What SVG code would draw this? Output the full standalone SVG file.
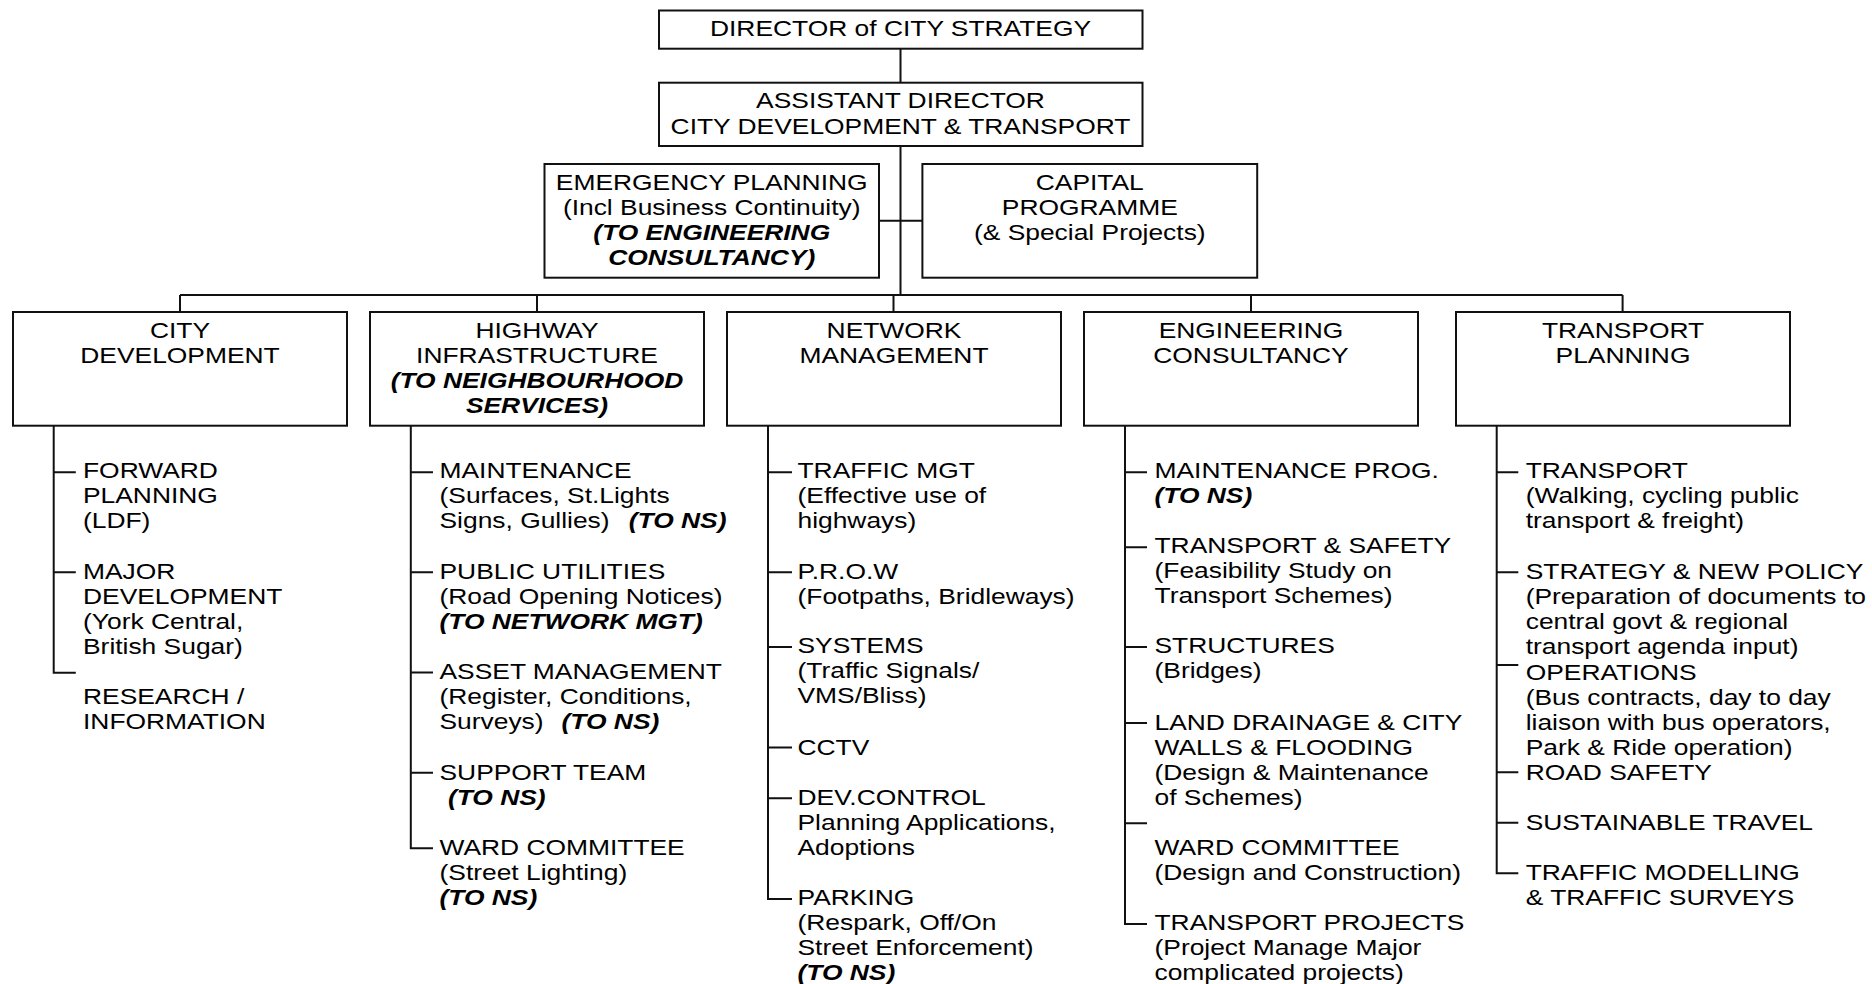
<svg xmlns="http://www.w3.org/2000/svg" width="1872" height="984" viewBox="0 0 1872 984">
<style>
.t{font-family:"Liberation Sans",Arial,Helvetica,sans-serif;font-size:22px;fill:#000}
.b{font-weight:bold;font-style:italic}
.c{text-anchor:middle}
.ln{stroke:#111;stroke-width:2;fill:none}
.box{fill:#fff;stroke:#111;stroke-width:2}
</style>
<rect x="0" y="0" width="1872" height="984" fill="#fff"/>

<g id="connectors">
  <path class="ln" d="M900.5,48.7V82.7 M900.5,146V295 M879,220.7H922.4 M180,295H1622.6 M180,295V312 M537,295V312 M893.5,295V312 M1251,295V312 M1622.6,295V312"/>
  <!-- city development list -->
  <path class="ln" d="M53.7,425.7V672.7H75.8 M53.7,472.3H75.8 M53.7,572.3H75.8"/>
  <!-- highway list -->
  <path class="ln" d="M410.8,425.7V848.3H433 M410.8,472.3H433 M410.8,572.3H433 M410.8,672.5H433 M410.8,772.7H433"/>
  <!-- network list -->
  <path class="ln" d="M768,425.7V899H792 M768,472.3H792 M768,572.3H792 M768,647H792 M768,747.5H792 M768,798.3H792"/>
  <!-- engineering list -->
  <path class="ln" d="M1125,425.7V924H1147 M1125,472.3H1147 M1125,547.3H1147 M1125,647H1147 M1125,723H1147 M1125,823.3H1147"/>
  <!-- transport planning list -->
  <path class="ln" d="M1496.7,425.7V873.3H1518.3 M1496.7,472.3H1518.3 M1496.7,572.3H1518.3 M1496.7,665H1518.3 M1496.7,772.3H1518.3 M1496.7,822.7H1518.3"/>
</g>

<g id="director">
  <rect class="box" x="659" y="10.5" width="483.5" height="38.2"/>
  <g transform="translate(900.5,36) scale(1.2,1)"><text class="t c" x="0" y="0">DIRECTOR of CITY STRATEGY</text></g>
</g>

<g id="assistant-director">
  <rect class="box" x="659" y="82.7" width="483.5" height="63.3"/>
  <g transform="translate(900.5,108.3) scale(1.2,1)"><text class="t c"><tspan x="0" y="0">ASSISTANT DIRECTOR</tspan><tspan x="0" y="25.7">CITY DEVELOPMENT &amp; TRANSPORT</tspan></text></g>
</g>

<g id="emergency-planning">
  <rect class="box" x="544.5" y="164" width="334.5" height="113.7"/>
  <g transform="translate(711.7,190) scale(1.2,1)"><text class="t c"><tspan x="0" y="0">EMERGENCY PLANNING</tspan><tspan x="0" y="25">(Incl Business Continuity)</tspan><tspan class="b" x="0" y="50">(TO ENGINEERING</tspan><tspan class="b" x="0" y="75">CONSULTANCY)</tspan></text></g>
</g>

<g id="capital-programme">
  <rect class="box" x="922.4" y="164" width="334.8" height="113.7"/>
  <g transform="translate(1089.8,190) scale(1.2,1)"><text class="t c"><tspan x="0" y="0">CAPITAL</tspan><tspan x="0" y="25">PROGRAMME</tspan><tspan x="0" y="50">(&amp; Special Projects)</tspan></text></g>
</g>

<g id="city-development">
  <rect class="box" x="13" y="312" width="334" height="113.7"/>
  <g transform="translate(180,337.7) scale(1.2,1)"><text class="t c"><tspan x="0" y="0">CITY</tspan><tspan x="0" y="25.6">DEVELOPMENT</tspan></text></g>
  <g transform="translate(83,478.3) scale(1.2,1)"><text class="t">
    <tspan x="0" y="0">FORWARD</tspan><tspan x="0" y="25">PLANNING</tspan><tspan x="0" y="50">(LDF)</tspan>
    <tspan x="0" y="101">MAJOR</tspan><tspan x="0" y="126">DEVELOPMENT</tspan><tspan x="0" y="151">(York Central,</tspan><tspan x="0" y="176">British Sugar)</tspan>
    <tspan x="0" y="226">RESEARCH /</tspan><tspan x="0" y="251">INFORMATION</tspan>
  </text></g>
</g>

<g id="highway-infrastructure">
  <rect class="box" x="370" y="312" width="334" height="113.7"/>
  <g transform="translate(537,337.7) scale(1.2,1)"><text class="t c"><tspan x="0" y="0">HIGHWAY</tspan><tspan x="0" y="25.6">INFRASTRUCTURE</tspan><tspan class="b" x="0" y="50.6">(TO NEIGHBOURHOOD</tspan><tspan class="b" x="0" y="75">SERVICES)</tspan></text></g>
  <g transform="translate(439.5,478.3) scale(1.2,1)"><text class="t">
    <tspan x="0" y="0">MAINTENANCE</tspan><tspan x="0" y="25">(Surfaces, St.Lights</tspan><tspan x="0" y="50">Signs, Gullies)</tspan><tspan class="b" dx="16">(TO NS)</tspan>
    <tspan x="0" y="101">PUBLIC UTILITIES</tspan><tspan x="0" y="126">(Road Opening Notices)</tspan><tspan class="b" x="0" y="151">(TO NETWORK MGT)</tspan>
    <tspan x="0" y="201.2">ASSET MANAGEMENT</tspan><tspan x="0" y="226.2">(Register, Conditions,</tspan><tspan x="0" y="251.2">Surveys)</tspan><tspan class="b" dx="15">(TO NS)</tspan>
    <tspan x="0" y="301.7">SUPPORT TEAM</tspan><tspan class="b" x="7" y="326.7">(TO NS)</tspan>
    <tspan x="0" y="376.7">WARD COMMITTEE</tspan><tspan x="0" y="401.7">(Street Lighting)</tspan><tspan class="b" x="0" y="426.7">(TO NS)</tspan>
  </text></g>
</g>

<g id="network-management">
  <rect class="box" x="727" y="312" width="334" height="113.7"/>
  <g transform="translate(894,337.7) scale(1.2,1)"><text class="t c"><tspan x="0" y="0">NETWORK</tspan><tspan x="0" y="25.6">MANAGEMENT</tspan></text></g>
  <g transform="translate(797.5,478.3) scale(1.2,1)"><text class="t">
    <tspan x="0" y="0">TRAFFIC MGT</tspan><tspan x="0" y="25">(Effective use of</tspan><tspan x="0" y="50">highways)</tspan>
    <tspan x="0" y="101">P.R.O.W</tspan><tspan x="0" y="126">(Footpaths, Bridleways)</tspan>
    <tspan x="0" y="175.2">SYSTEMS</tspan><tspan x="0" y="200.2">(Traffic Signals/</tspan><tspan x="0" y="225.2">VMS/Bliss)</tspan>
    <tspan x="0" y="276.7">CCTV</tspan>
    <tspan x="0" y="326.7">DEV.CONTROL</tspan><tspan x="0" y="351.7">Planning Applications,</tspan><tspan x="0" y="376.7">Adoptions</tspan>
    <tspan x="0" y="426.7">PARKING</tspan><tspan x="0" y="451.7">(Respark, Off/On</tspan><tspan x="0" y="476.7">Street Enforcement)</tspan><tspan class="b" x="0" y="501.7">(TO NS)</tspan>
  </text></g>
</g>

<g id="engineering-consultancy">
  <rect class="box" x="1084" y="312" width="334" height="113.7"/>
  <g transform="translate(1251,337.7) scale(1.2,1)"><text class="t c"><tspan x="0" y="0">ENGINEERING</tspan><tspan x="0" y="25.6">CONSULTANCY</tspan></text></g>
  <g transform="translate(1154.5,478.3) scale(1.2,1)"><text class="t">
    <tspan x="0" y="0">MAINTENANCE PROG.</tspan><tspan class="b" x="0" y="25">(TO NS)</tspan>
    <tspan x="0" y="75">TRANSPORT &amp; SAFETY</tspan><tspan x="0" y="100">(Feasibility Study on</tspan><tspan x="0" y="125">Transport Schemes)</tspan>
    <tspan x="0" y="175.2">STRUCTURES</tspan><tspan x="0" y="200.2">(Bridges)</tspan>
    <tspan x="0" y="251.7">LAND DRAINAGE &amp; CITY</tspan><tspan x="0" y="276.7">WALLS &amp; FLOODING</tspan><tspan x="0" y="301.7">(Design &amp; Maintenance</tspan><tspan x="0" y="326.7">of Schemes)</tspan>
    <tspan x="0" y="376.7">WARD COMMITTEE</tspan><tspan x="0" y="401.7">(Design and Construction)</tspan>
    <tspan x="0" y="451.7">TRANSPORT PROJECTS</tspan><tspan x="0" y="476.7">(Project Manage Major</tspan><tspan x="0" y="501.7">complicated projects)</tspan>
  </text></g>
</g>

<g id="transport-planning">
  <rect class="box" x="1456" y="312" width="334" height="113.7"/>
  <g transform="translate(1623,337.7) scale(1.2,1)"><text class="t c"><tspan x="0" y="0">TRANSPORT</tspan><tspan x="0" y="25.6">PLANNING</tspan></text></g>
  <g transform="translate(1525.7,478.3) scale(1.2,1)"><text class="t">
    <tspan x="0" y="0">TRANSPORT</tspan><tspan x="0" y="25">(Walking, cycling public</tspan><tspan x="0" y="50">transport &amp; freight)</tspan>
    <tspan x="0" y="101">STRATEGY &amp; NEW POLICY</tspan><tspan x="0" y="126">(Preparation of documents to</tspan><tspan x="0" y="151">central govt &amp; regional</tspan><tspan x="0" y="176">transport agenda input)</tspan>
    <tspan x="0" y="201.7">OPERATIONS</tspan><tspan x="0" y="226.7">(Bus contracts, day to day</tspan><tspan x="0" y="251.7">liaison with bus operators,</tspan><tspan x="0" y="276.7">Park &amp; Ride operation)</tspan>
    <tspan x="0" y="301.7">ROAD SAFETY</tspan>
    <tspan x="0" y="351.7">SUSTAINABLE TRAVEL</tspan>
    <tspan x="0" y="401.7">TRAFFIC MODELLING</tspan><tspan x="0" y="426.7">&amp; TRAFFIC SURVEYS</tspan>
  </text></g>
</g>
</svg>
